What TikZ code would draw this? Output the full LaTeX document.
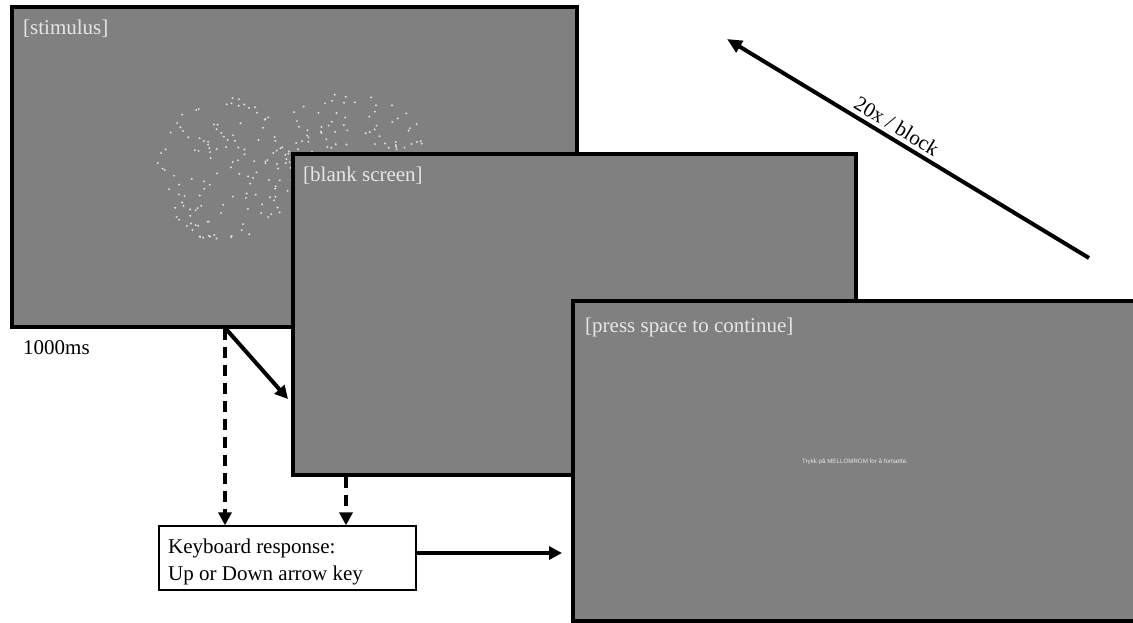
\documentclass[tikz,border=0pt]{standalone}
\usepackage{fontspec}
\setmainfont{Liberation Serif}
\newfontfamily\arialf{Liberation Sans}
\usetikzlibrary{arrows.meta,calc}
\definecolor{scrgray}{HTML}{808080}
\definecolor{scrtext}{HTML}{E6E6E6}
\definecolor{dotc}{HTML}{DDDDDD}
\begin{document}
\begin{tikzpicture}[x=1pt,y=-1pt,
  screen/.style={draw=black,line width=4pt,fill=scrgray,inner sep=0pt},
  title/.style={font=\fontsize{21}{25}\selectfont,text=scrtext,anchor=base west,inner sep=0pt},
  plain/.style={font=\fontsize{21}{27}\selectfont,text=black,anchor=base west,inner sep=0pt},
  arr/.style={line width=4pt,-{Triangle[length=13pt,width=13pt]}},
  dasharr/.style={line width=4pt,dash pattern=on 11pt off 7pt,-{Triangle[length=13pt,width=13pt]}},
  respbox/.style={draw=black,line width=1.3pt,fill=white,inner sep=0pt,minimum width=257pt,minimum height=64pt}
]
\useasboundingbox (0,0) rectangle (1133,623);

% screen 1: stimulus
\node[screen,minimum width=565pt,minimum height=320pt] (s1) at (294.5,167) {};
\pgfmathsetseed{12}
\foreach \i in {1,...,130}{
  \pgfmathsetmacro{\ang}{360*rnd}
  \pgfmathsetmacro{\rad}{sqrt(rnd)}
  \fill[dotc] ({225+68*\rad*cos(\ang)},{170+73*\rad*sin(\ang)}) circle (1.1pt);
}
\foreach \i in {1,...,140}{
  \pgfmathsetmacro{\ang}{360*rnd}
  \pgfmathsetmacro{\rad}{sqrt(rnd)}
  \fill[dotc] ({350+78*\rad*cos(\ang)},{155+62*\rad*sin(\ang)}) circle (1.1pt);
}
\node[title] (t1) at (23,35) {[stimulus]};

% screen 2: blank
\node[screen,minimum width=563.5pt,minimum height=321pt] (s2) at (574.25,314.5) {};
\node[title] (t2) at (303,182) {[blank screen]};

% screen 3: press space
\node[screen,minimum width=567pt,minimum height=320pt] (s3) at (856.5,461) {};
\node[title] (t3) at (585,332) {[press space to continue]};
\node[font=\arialf\fontsize{6.2}{7}\selectfont,text=scrtext,inner sep=0pt] (msg) at (855,462) {Trykk på MELLOMROM for å fortsette.};

% 1000ms
\node[plain] (ms) at (23,354) {1000ms};

% keyboard response box
\node[respbox] (kb) at (287.5,558) {};
\node[plain] (kbt1) at (168,553) {Keyboard response:};
\node[plain] (kbt2) at (168,580) {Up or Down arrow key};

% connectors
\coordinate (d1) at (225,0);
\coordinate (d2) at (346,0);
\draw[dasharr] (s1.south -| d1) -- (kb.north -| d1);
\draw[dasharr] (s2.south -| d2) -- (kb.north -| d2);
\coordinate (diagstart) at (226,329);
\coordinate (diagend) at (288,399);
\draw[arr] (diagstart) -- (diagend);
\coordinate (hend) at (562,553);
\draw[arr] (kb.east |- hend) -- (hend);

% repetition arrow
\coordinate (rA) at (1089,258);
\coordinate (rB) at (727,39);
\draw[line width=4pt,-{Triangle[length=15pt,width=13pt]}] (rA) -- (rB)
  node[pos=0.55,sloped,above=4pt,font=\fontsize{21}{25}\selectfont,inner sep=0pt] (rep) {20x / block};
\end{tikzpicture}
\end{document}
